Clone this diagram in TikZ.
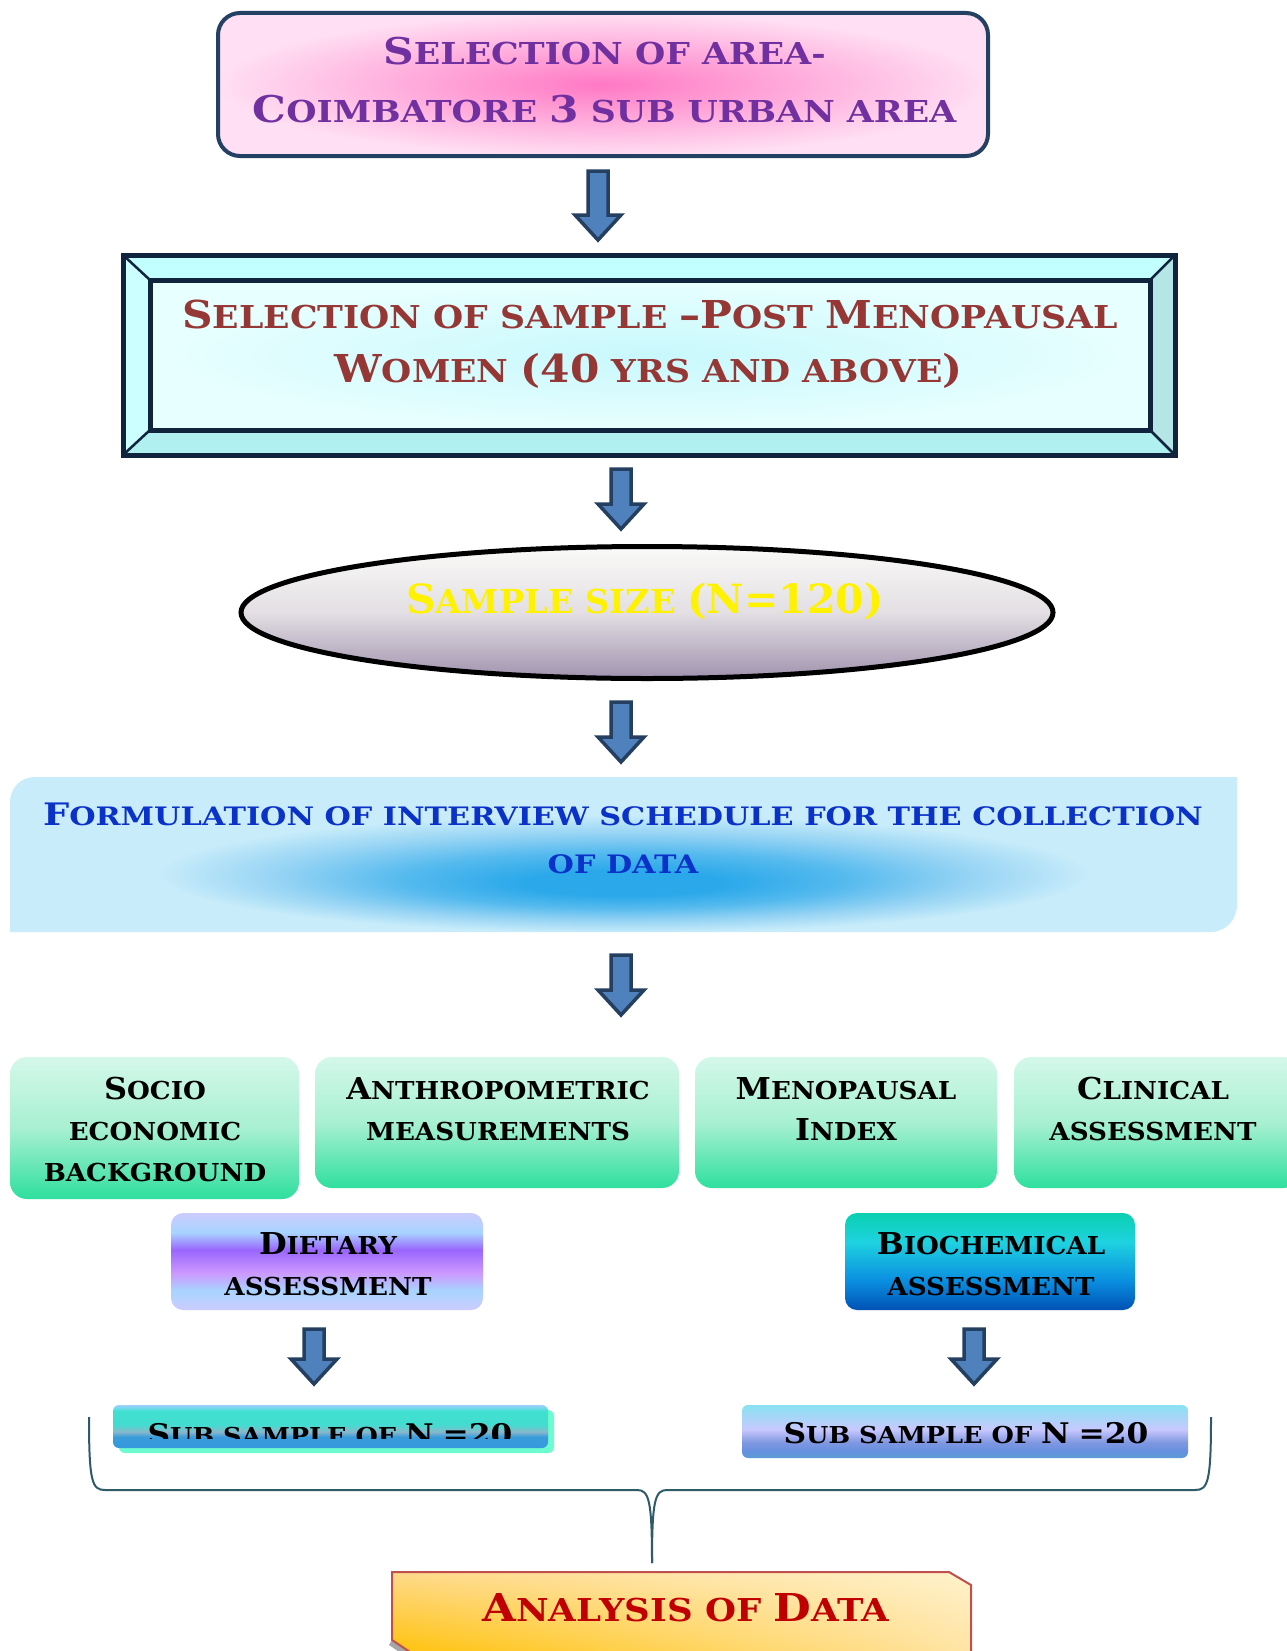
\documentclass[tikz,border=0pt]{standalone}
\usepackage{fontspec}
\usepackage{graphicx}
\usetikzlibrary{shapes.geometric,shadings}
\newfontfamily\fA{DejaVu Serif}[FakeStretch=1.15]
\newfontfamily\fB{DejaVu Serif}[FakeStretch=1.10]
\newfontfamily\fC{DejaVu Serif}[FakeStretch=1.02]
\newfontfamily\fD{DejaVu Serif}[FakeStretch=1.19]
\newfontfamily\fE{DejaVu Serif}[FakeStretch=1.06]
\newfontfamily\fF{DejaVu Serif}[FakeStretch=1.10]
\newfontfamily\fG{DejaVu Serif}[FakeStretch=1.13]
\newcommand\C[1]{\scalebox{1.22}{#1}}
\newcommand\fsz[1]{\fontsize{#1}{#1}\selectfont}
% colours
\definecolor{navy}{RGB}{36,64,98}
\definecolor{purp}{HTML}{7030A0}
\definecolor{pinkin}{HTML}{FF78C4}
\definecolor{pinkout}{HTML}{FFDFF3}
\definecolor{arrowblue}{HTML}{4F81BD}
\definecolor{arrowdark}{HTML}{243F60}
\definecolor{bevline}{RGB}{17,36,62}
\definecolor{bevtop}{HTML}{C2FFFF}
\definecolor{bevleft}{HTML}{CCFFFF}
\definecolor{bevbot}{HTML}{B0F0F0}
\definecolor{bevright}{HTML}{B4E6E6}
\definecolor{bevin}{HTML}{E8FFFF}
\definecolor{bevcen}{HTML}{C8F8FC}
\definecolor{txtred}{HTML}{953735}
\definecolor{elltop}{HTML}{FAFAF8}
\definecolor{ellmid}{HTML}{E3DFE3}
\definecolor{ellbot}{HTML}{A092AE}
\definecolor{formbase}{HTML}{C8ECFA}
\definecolor{formA}{HTML}{2AA8EA}
\definecolor{formB}{HTML}{55BAEE}
\definecolor{formC}{HTML}{95D3F4}
\definecolor{formtxt}{HTML}{0A32C8}
\definecolor{grA}{HTML}{D4F8EA}
\definecolor{grB}{HTML}{A8F0D2}
\definecolor{grC}{HTML}{2EDF9E}
\definecolor{dtA}{HTML}{CCCCFF}
\definecolor{dtB}{HTML}{A8D4FF}
\definecolor{dtC}{HTML}{9966FF}
\definecolor{dtD}{HTML}{CC99FF}
\definecolor{bcA}{HTML}{0AD0B0}
\definecolor{bcB}{HTML}{1ED2E0}
\definecolor{bcC}{HTML}{0A8EE0}
\definecolor{bcD}{HTML}{0052B4}
\definecolor{srA}{HTML}{88E2F0}
\definecolor{srB}{HTML}{C8C8FF}
\definecolor{srC}{HTML}{8098E0}
\definecolor{srD}{HTML}{6690E0}
\definecolor{srE}{HTML}{5B9BD5}
\definecolor{slA}{HTML}{A0D0FF}
\definecolor{slB}{HTML}{40E0D0}
\definecolor{slC}{HTML}{44DCD0}
\definecolor{slD}{HTML}{88B8CC}
\definecolor{slE}{HTML}{3A9CDA}
\definecolor{slF}{HTML}{3399DD}
\definecolor{mint}{HTML}{6CFCD0}
\definecolor{bracec}{HTML}{2F5A68}
\definecolor{anred}{HTML}{C00000}
\definecolor{anborder}{HTML}{C0504D}
\definecolor{anUL}{HTML}{FFD98A}
\definecolor{anUR}{HTML}{FFF2CC}
\definecolor{anLL}{HTML}{FFC000}
\definecolor{anLR}{HTML}{FFE2A0}
% shadings
\pgfdeclareradialshading{formshade}{\pgfpoint{0bp}{-10bp}}{color(0bp)=(formA); color(4bp)=(formA); color(9bp)=(formB); color(14bp)=(formC); color(19bp)=(formbase); color(50bp)=(formbase)}
\pgfdeclareverticalshading{greensh}{100bp}{color(0bp)=(grC); color(25bp)=(grC); color(50bp)=(grB); color(75bp)=(grA); color(100bp)=(grA)}
\pgfdeclareverticalshading{dietsh}{100bp}{color(0bp)=(dtA); color(25bp)=(dtA); color(35bp)=(dtB); color(44bp)=(dtD); color(56bp)=(dtC); color(65bp)=(dtB); color(75bp)=(dtA); color(100bp)=(dtA)}
\pgfdeclareverticalshading{biosh}{100bp}{color(0bp)=(bcD); color(25bp)=(bcD); color(40bp)=(bcC); color(60bp)=(bcB); color(75bp)=(bcA); color(100bp)=(bcA)}
\pgfdeclareverticalshading{subrsh}{100bp}{color(0bp)=(srE); color(25bp)=(srE); color(32bp)=(srD); color(40bp)=(srC); color(52bp)=(srB); color(75bp)=(srA); color(100bp)=(srA)}
\pgfdeclareverticalshading{sublsh}{100bp}{color(0bp)=(slF); color(25bp)=(slF); color(38bp)=(slE); color(44bp)=(slD); color(52bp)=(slC); color(68bp)=(slB); color(75bp)=(slA); color(100bp)=(slA)}
\newcommand\blockarrow[3]{%
  \filldraw[barrow] (#1-10,#2) -- (#1+10,#2) -- (#1+10,#3-25) -- (#1+23,#3-25)
    -- (#1,#3) -- (#1-23,#3-25) -- (#1-10,#3-25) -- cycle;}
\begin{document}
\begin{tikzpicture}[x=1pt,y=-1pt,
  barrow/.style={fill=arrowblue, draw=arrowdark, line width=3.5pt, line join=miter},
  txt/.style={anchor=base, inner sep=0pt, outer sep=0pt},
  t1/.style={txt, font=\fA\bfseries\fsz{30.2}, text=purp},
  t2/.style={txt, font=\fB\bfseries\fsz{31.5}, text=txtred},
  t3/.style={txt, font=\fC\bfseries\fsz{33}, text=yellow},
  t4/.style={txt, font=\fD\bfseries\fsz{25.4}, text=formtxt},
  t5/.style={txt, font=\fE\bfseries\fsz{24.7}, text=black},
  t6/.style={txt, font=\fF\bfseries\fsz{23.3}, text=black},
  t7/.style={txt, font=\fG\bfseries\fsz{31.5}, text=anred},
  boxn/.style={inner sep=0pt, outer sep=0pt},
  greenbox/.style={boxn, shade, shading=greensh, rounded corners=17pt},
]
\useasboundingbox (0,0) rectangle (1287,1651);
\fill[white] (0,0) rectangle (1287,1651);
\clip (0,0) rectangle (1287,1651);

% ---- Box 1
\node[boxn, draw=navy, line width=4pt, rounded corners=22pt, inner color=pinkin, outer color=pinkout,
      minimum width=770pt, minimum height=143pt] (area) at (603,84.5) {};
\node[t1] (area-a) at (604.5,65) {\C{S}ELECTION OF AREA-};
\node[t1] (area-b) at (604.5,123) {\C{C}OIMBATORE \C{3} SUB URBAN AREA};

\blockarrow{598}{171}{240}

% ---- Box 2 (bevel)
\fill[bevtop] (123,255) -- (1175,255) -- (1150,280) -- (150,280) -- cycle;
\fill[bevleft] (123,255) -- (150,280) -- (150,430) -- (123,455) -- cycle;
\fill[bevbot] (123,455) -- (1175,455) -- (1150,430) -- (150,430) -- cycle;
\fill[bevright] (1175,255) -- (1150,280) -- (1150,430) -- (1175,455) -- cycle;
\node[boxn, draw=bevline, line width=5pt, minimum width=1052pt, minimum height=200pt] (samp) at (649,355) {};
\node[boxn, draw=bevline, line width=5pt, inner color=bevcen, outer color=bevin,
      minimum width=1000pt, minimum height=150pt] (sampin) at (650,355) {};
\draw[bevline, line width=2.5pt] (samp.north west) -- (sampin.north west)
  (samp.north east) -- (sampin.north east) (samp.south west) -- (sampin.south west)
  (samp.south east) -- (sampin.south east);
\node[t2] (samp-a) at (650,328) {\C{S}ELECTION OF SAMPLE \C{–P}OST \C{M}ENOPAUSAL};
\node[t2] (samp-b) at (648.5,382) {\C{W}OMEN \C{(40} YRS AND ABOVE\C{)}};

\blockarrow{621}{469}{529}

% ---- Ellipse
\node[boxn, ellipse, draw=black, line width=5pt, top color=elltop, bottom color=ellbot, middle color=ellmid,
      minimum width=812pt, minimum height=132pt] (size) at (647,612.5) {};
\node[t3] (size-t) at (645,613) {\C{S}AMPLE SIZE \C{(N=120)}};

\blockarrow{621}{702}{762}

% ---- Formulation
\shade[shading=formshade] (10,932) -- (10,803) .. controls (10,788) and (20,777) .. (36,777)
  -- (1237,777) -- (1237,904) .. controls (1237,920) and (1226,932) .. (1210,932) -- cycle;
\node[t4] (form-a) at (623,825) {\C{F}ORMULATION OF INTERVIEW SCHEDULE FOR THE COLLECTION};
\node[t4] (form-b) at (623,873) {OF DATA};

\blockarrow{621}{955}{1015}

% ---- green boxes
\node[greenbox, minimum width=289pt, minimum height=142pt] (socio) at (154.5,1128) {};
\node[greenbox, minimum width=364pt, minimum height=131pt] (anthro) at (497,1122.5) {};
\node[greenbox, minimum width=302pt, minimum height=131pt] (meno) at (846,1122.5) {};
\node[greenbox, minimum width=286pt, minimum height=131pt] (clin) at (1157,1122.5) {};
\node[t5] (socio-a) at (155,1099) {\C{S}OCIO};
\node[t5] (socio-b) at (155,1140) {ECONOMIC};
\node[t5] (socio-c) at (155,1181) {BACKGROUND};
\node[t5] (anthro-a) at (498,1099) {\C{A}NTHROPOMETRIC};
\node[t5] (anthro-b) at (498,1140) {MEASUREMENTS};
\node[t5] (meno-a) at (846,1099) {\C{M}ENOPAUSAL};
\node[t5] (meno-b) at (846,1140) {\C{I}NDEX};
\node[t5] (clin-a) at (1153,1099) {\C{C}LINICAL};
\node[t5] (clin-b) at (1153,1140) {ASSESSMENT};

% ---- dietary / biochemical
\node[boxn, shade, shading=dietsh, rounded corners=12pt, minimum width=312pt, minimum height=97pt] (diet) at (327,1261.5) {};
\node[t5] (diet-a) at (328,1254) {\C{D}IETARY};
\node[t5] (diet-b) at (328,1295) {ASSESSMENT};
\node[boxn, shade, shading=biosh, rounded corners=12pt, minimum width=290pt, minimum height=97pt] (bio) at (990,1261.5) {};
\node[t5] (bio-a) at (991,1254) {\C{B}IOCHEMICAL};
\node[t5] (bio-b) at (991,1295) {ASSESSMENT};

\blockarrow{314}{1329}{1384}
\blockarrow{974}{1329}{1384}

% ---- sub samples
\fill[mint, rounded corners=6pt] (119,1410) rectangle (554,1453);
\node[boxn, shade, shading=sublsh, rounded corners=6pt, minimum width=435pt, minimum height=43pt] (subl) at (330.5,1426.5) {};
\begin{scope}
  \clip (100,1400) rectangle (560,1438);
  \node[t6] (subl-t) at (330,1444) {\C{S}UB SAMPLE OF \C{N} \C{=20}};
\end{scope}
\node[boxn, shade, shading=subrsh, rounded corners=6pt, minimum width=446pt, minimum height=53pt] (subr) at (965,1431.5) {};
\node[t6] (subr-t) at (966,1443) {\C{S}UB SAMPLE OF \C{N} \C{=20}};

% ---- brace
\coordinate (brL) at (89,1417);
\coordinate (brR) at (1211,1417);
\coordinate (brT) at (652,1563);
\draw[bracec, line width=2pt] (brL) .. controls (89,1482) and (92,1490) .. (105,1490) -- (637,1490)
  .. controls (649,1490) and (652,1500) .. (brT);
\draw[bracec, line width=2pt] (brR) .. controls (1211,1482) and (1208,1490) .. (1195,1490) -- (667,1490)
  .. controls (655,1490) and (652,1500) .. (brT);

% ---- analysis
\fill[gray!70] (392,1640) -- (389,1645) -- (417,1664) -- (430,1664) -- cycle;
\path[draw=anborder, line width=2pt, upper left=anUL, upper right=anUR, lower left=anLL, lower right=anLR]
  (392,1572) -- (949,1572) -- (971,1585) -- (971,1660) -- (422,1660) -- (392,1640) -- cycle;
\node[t7] (anal) at (686,1621) {\C{A}NALYSIS OF \C{D}ATA};
\end{tikzpicture}
\end{document}
